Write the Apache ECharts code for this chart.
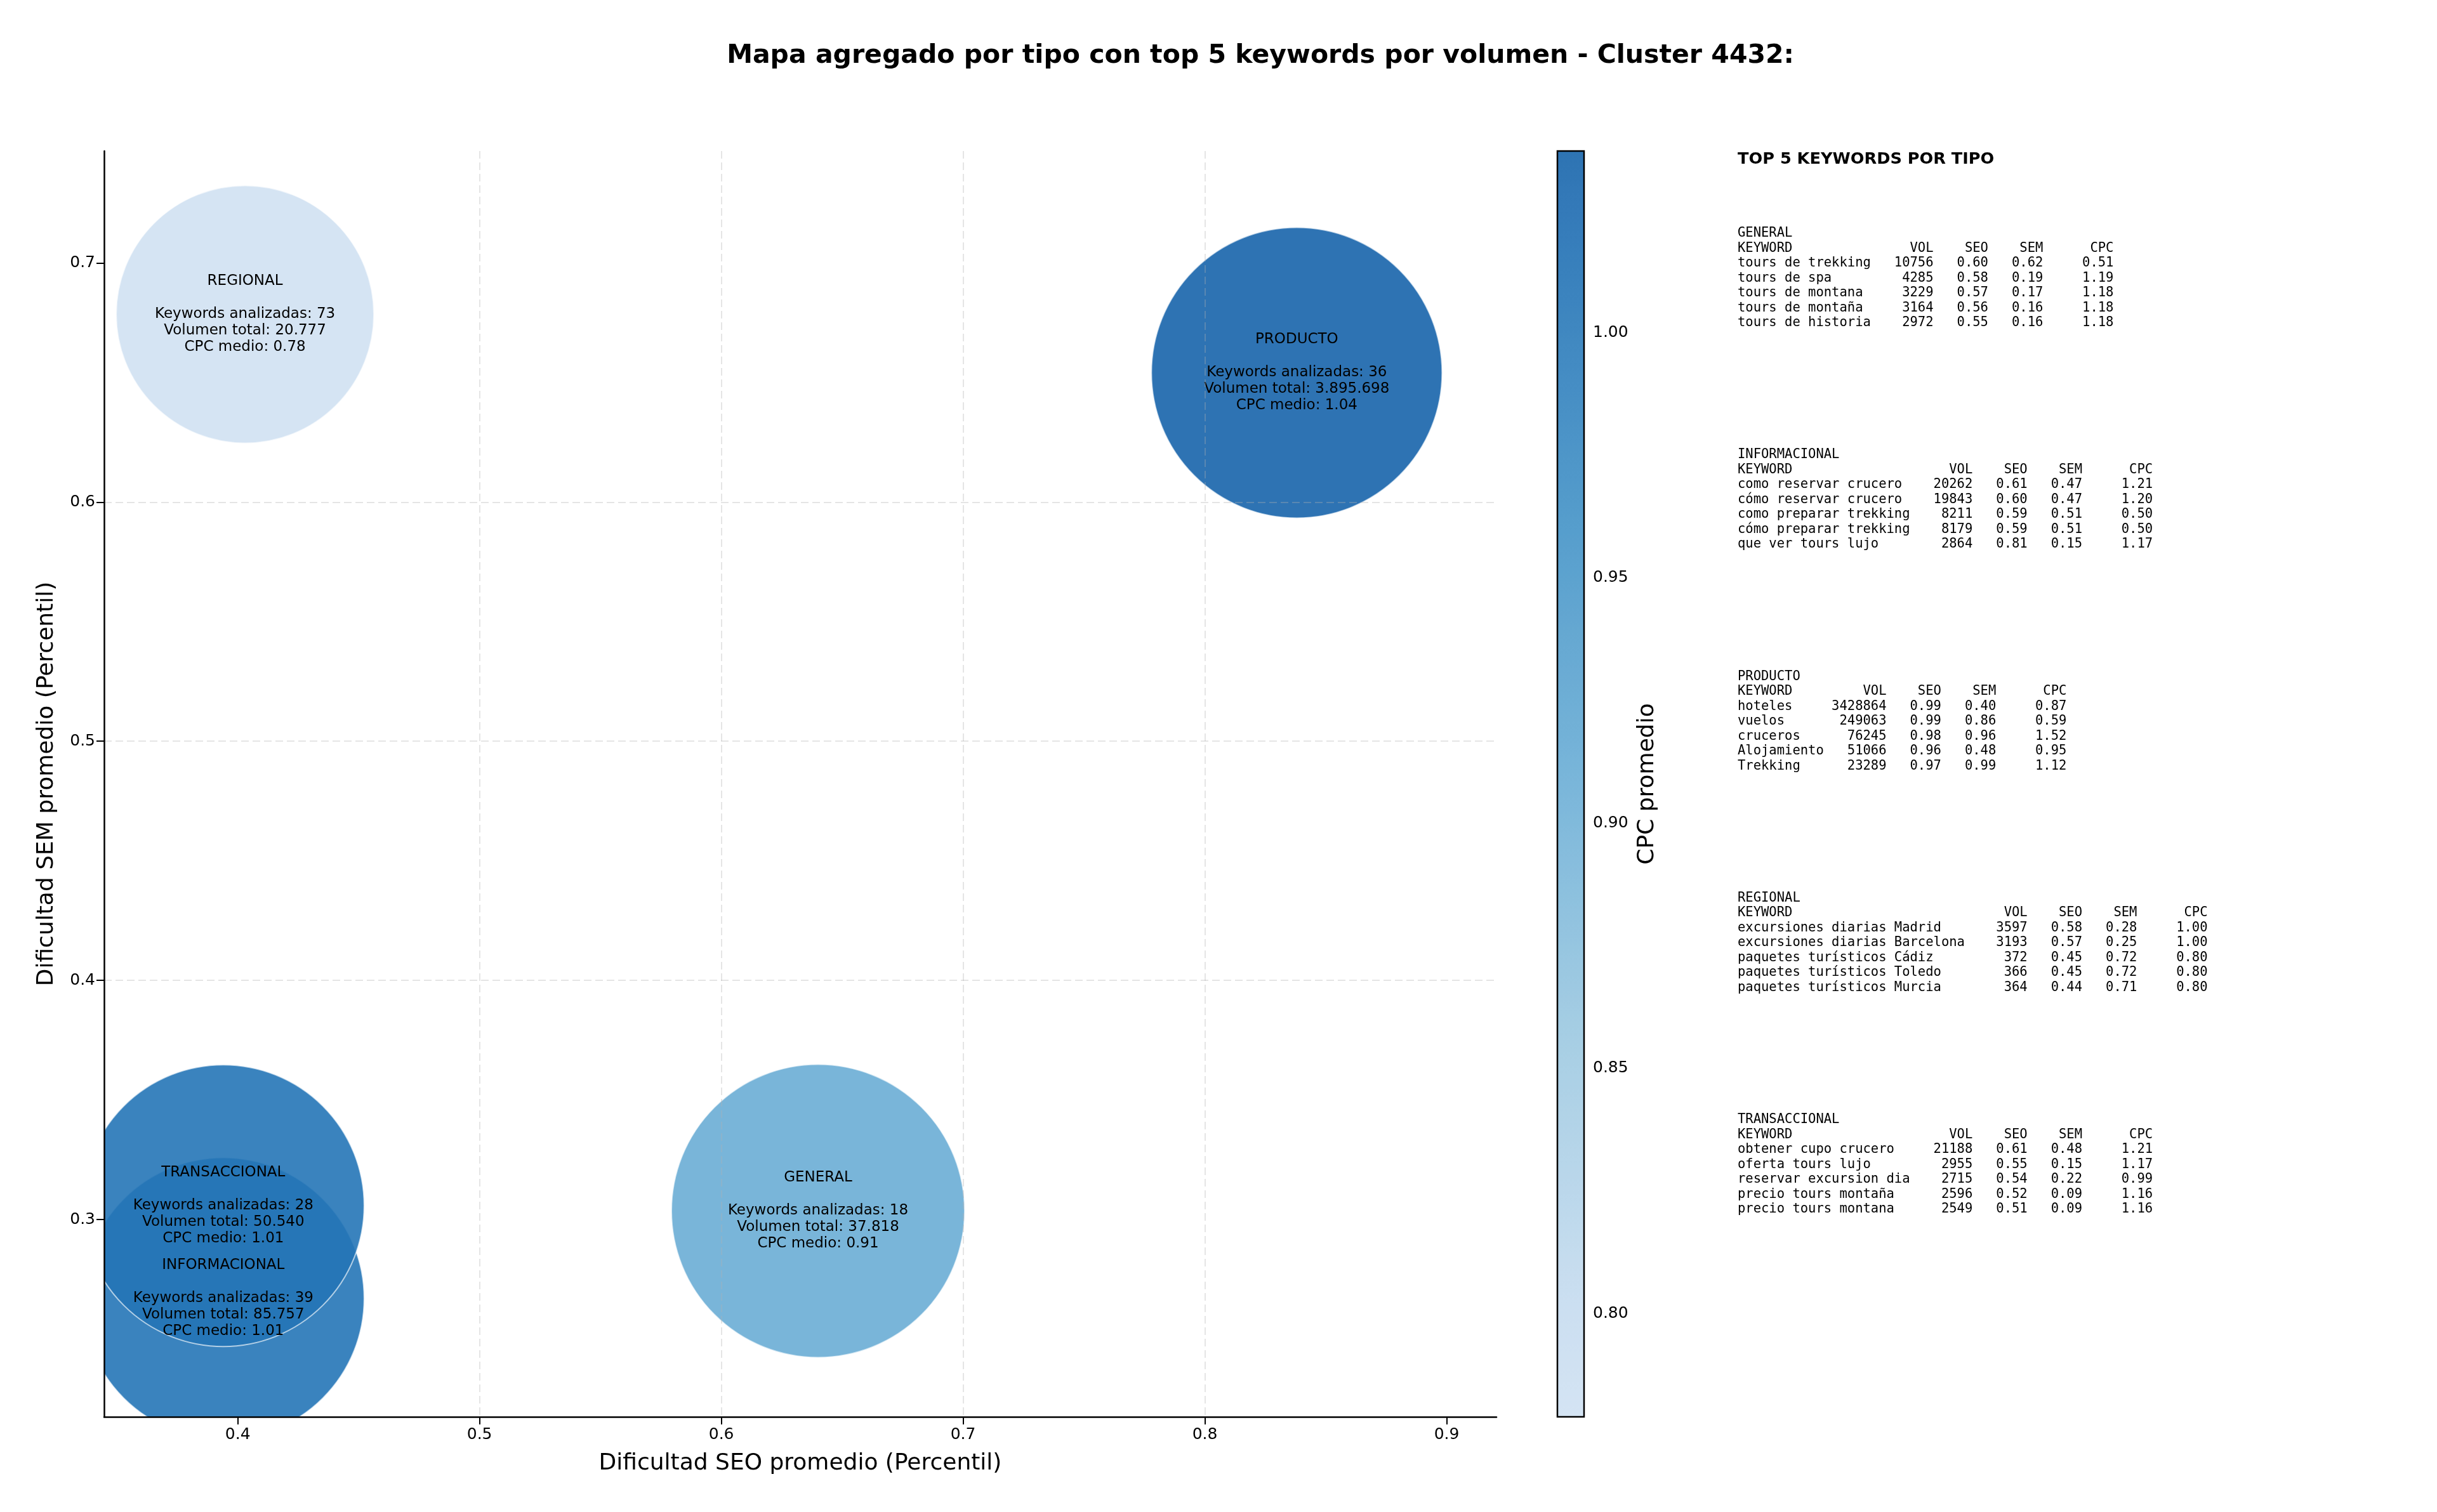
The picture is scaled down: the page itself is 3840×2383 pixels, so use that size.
<!DOCTYPE html>
<html>
<head>
<meta charset="utf-8">
<title>Mapa agregado por tipo - Cluster 4432</title>
<script src="https://cdn.jsdelivr.net/npm/echarts@6.0.0/dist/echarts.min.js"></script>
<style>
html, body { margin: 0; padding: 0; background: #fff; }
#chart { width: 3840px; height: 2383px; }
</style>
</head>
<body>
<div id="chart"></div>
<script>
// datos agregados por tipo
const tipos = ['GENERAL', 'INFORMACIONAL', 'PRODUCTO', 'REGIONAL', 'TRANSACCIONAL'];
const seoMedio = [0.640, 0.394, 0.838, 0.403, 0.394];
const semMedio = [0.3036, 0.267, 0.6541, 0.6785, 0.3058];
const cpcMedio = [0.91, 1.01, 1.037, 0.779, 1.01];
const numKeywords = [18, 39, 36, 73, 28];
const volumenTotal = [37818, 85757, 3895698, 20777, 50540];
const tamanoBurbuja = [46.2, 44.4, 45.8, 40.6, 44.4]; // indice relativo de tamaño

const ticksX = [0.4, 0.5, 0.6, 0.7, 0.8, 0.9];
const ticksY = [0.3, 0.4, 0.5, 0.6, 0.7];
const ticksCpc = [0.80, 0.85, 0.90, 0.95, 1.00];

// top 5 keywords por tipo: [keyword, vol, seo, sem, cpc]
const topGeneral = [
  ['tours de trekking', 10756, 0.60, 0.62, 0.51],
  ['tours de spa', 4285, 0.58, 0.19, 1.19],
  ['tours de montana', 3229, 0.57, 0.17, 1.18],
  ['tours de montaña', 3164, 0.56, 0.16, 1.18],
  ['tours de historia', 2972, 0.55, 0.16, 1.18]
];
const topInformacional = [
  ['como reservar crucero', 20262, 0.61, 0.47, 1.21],
  ['cómo reservar crucero', 19843, 0.60, 0.47, 1.20],
  ['como preparar trekking', 8211, 0.59, 0.51, 0.50],
  ['cómo preparar trekking', 8179, 0.59, 0.51, 0.50],
  ['que ver tours lujo', 2864, 0.81, 0.15, 1.17]
];
const topProducto = [
  ['hoteles', 3428864, 0.99, 0.40, 0.87],
  ['vuelos', 249063, 0.99, 0.86, 0.59],
  ['cruceros', 76245, 0.98, 0.96, 1.52],
  ['Alojamiento', 51066, 0.96, 0.48, 0.95],
  ['Trekking', 23289, 0.97, 0.99, 1.12]
];
const topRegional = [
  ['excursiones diarias Madrid', 3597, 0.58, 0.28, 1.00],
  ['excursiones diarias Barcelona', 3193, 0.57, 0.25, 1.00],
  ['paquetes turísticos Cádiz', 372, 0.45, 0.72, 0.80],
  ['paquetes turísticos Toledo', 366, 0.45, 0.72, 0.80],
  ['paquetes turísticos Murcia', 364, 0.44, 0.71, 0.80]
];
const topTransaccional = [
  ['obtener cupo crucero', 21188, 0.61, 0.48, 1.21],
  ['oferta tours lujo', 2955, 0.55, 0.15, 1.17],
  ['reservar excursion dia', 2715, 0.54, 0.22, 0.99],
  ['precio tours montaña', 2596, 0.52, 0.09, 1.16],
  ['precio tours montana', 2549, 0.51, 0.09, 1.16]
];
const tablas = [topGeneral, topInformacional, topProducto, topRegional, topTransaccional];

const FONT = 'DejaVu Sans';
const MONO = 'DejaVu Sans Mono';
const ALFA = 0.9;

// separador de miles con punto
function miles(n) {
  return String(n).replace(/\B(?=(\d{3})+(?!\d))/g, '.');
}

// mapa de color Blues recortado (0.2 - 0.8)
const BLUES = ['#f7fbff', '#deebf7', '#c6dbef', '#9ecae1', '#6baed6', '#4292c6', '#2171b5', '#08519c', '#08306b'];
function rgb(h) { return [1, 3, 5].map(k => parseInt(h.substr(k, 2), 16)); }
function blues(t, alfa) {
  const p = t * 8, i = Math.min(7, Math.floor(p)), f = p - i;
  const a = rgb(BLUES[i]), b = rgb(BLUES[i + 1]);
  return 'rgb(' + a.map((v, k) => {
    const c = v + (b[k] - v) * f;
    return Math.round(c * alfa + 255 * (1 - alfa));
  }).join(',') + ')';
}
const escalaColor = [], escalaBarra = [];
for (let k = 0; k <= 24; k++) {
  escalaColor.push(blues(0.2 + 0.6 * k / 24, 1));
  escalaBarra.push(blues(0.2 + 0.6 * k / 24, ALFA)); // la barra con la misma transparencia
}

// texto de cada tabla en formato monoespaciado
function textoTabla(nombre, filas) {
  const w = Math.max(...filas.map(f => f[0].length)) + 1;
  const lineas = [nombre,
    'KEYWORD'.padEnd(w) + 'VOL'.padStart(7) + 'SEO'.padStart(7) + 'SEM'.padStart(7) + 'CPC'.padStart(9)];
  filas.forEach(f => {
    lineas.push(f[0].padEnd(w) + String(f[1]).padStart(7) + f[2].toFixed(2).padStart(7) +
      f[3].toFixed(2).padStart(7) + f[4].toFixed(2).padStart(9));
  });
  return lineas.join('\n');
}

const datos = tipos.map((t, i) => [seoMedio[i], semMedio[i], cpcMedio[i], tamanoBurbuja[i]]);

function etiqueta(i) {
  return tipos[i] + '\n\nKeywords analizadas: ' + numKeywords[i] +
    '\nVolumen total: ' + miles(volumenTotal[i]) + '\nCPC medio: ' + cpcMedio[i].toFixed(2);
}

// burbuja + texto, recortado al area de la grafica
function dibujarBurbuja(params, api) {
  const c = api.coord([api.value(0), api.value(1)]);
  const r = api.value(3) * 5;
  return {
    type: 'group',
    children: [
      {
        type: 'circle', z2: 0,
        shape: { cx: c[0], cy: c[1], r: r },
        style: { fill: api.visual('color'), opacity: ALFA, stroke: 'rgba(255,255,255,0.7)', lineWidth: 2 }
      },
      {
        type: 'text', z2: 10, x: c[0], y: c[1],
        style: { text: etiqueta(params.dataIndex), align: 'center', verticalAlign: 'middle', fontSize: 23, lineHeight: 26, fontFamily: FONT, fill: '#000' }
      }
    ]
  };
}

const graficos = [
  {
    type: 'text', x: 1986, y: 88,
    style: { text: 'Mapa agregado por tipo con top 5 keywords por volumen - Cluster 4432:', fontSize: 41, fontWeight: 'bold', fontFamily: FONT, fill: '#000', align: 'center', verticalAlign: 'middle' }
  },
  {
    type: 'text', x: 2738, y: 251,
    style: { text: 'TOP 5 KEYWORDS POR TIPO', fontSize: 25.6, fontWeight: 'bold', fontFamily: FONT, fill: '#000', verticalAlign: 'middle' }
  }
];
tablas.forEach((filas, i) => {
  graficos.push({
    type: 'text', x: 2738, y: 356 + i * 349.3,
    style: { text: textoTabla(tipos[i], filas), fontSize: 20.5, fontFamily: MONO, lineHeight: 23.5, fill: '#000', verticalAlign: 'top' }
  });
});

const rejilla = { show: true, showMinLine: false, showMaxLine: false, lineStyle: { color: 'rgba(176,176,176,0.33)', width: 2, type: [12, 6] } };

const chart = echarts.init(document.getElementById('chart'));
chart.setOption({
  animation: false,
  textStyle: { fontFamily: FONT, color: '#000' },
  grid: [
    { left: 164, top: 238, width: 2194, height: 1995 },
    { left: 2454, top: 238, width: 42, height: 1995, show: true, borderColor: '#000', borderWidth: 2.5, backgroundColor: 'transparent', z: 10 }
  ],
  xAxis: [
    {
      gridIndex: 0, type: 'value', min: 0.3447, max: 0.9206, splitNumber: 5, z: 5,
      name: 'Dificultad SEO promedio (Percentil)', nameLocation: 'middle', nameGap: 56,
      nameTextStyle: { fontSize: 36, color: '#000', fontFamily: FONT },
      axisLine: { show: true, onZero: false, lineStyle: { color: '#000', width: 2.5 } },
      axisTick: { show: true, customValues: ticksX, length: 12, lineStyle: { color: '#000', width: 2 } },
      axisLabel: { customValues: ticksX, formatter: v => v.toFixed(1), fontSize: 25, color: '#000', margin: 16 },
      splitLine: rejilla
    },
    { gridIndex: 1, type: 'value', show: false }
  ],
  yAxis: [
    {
      gridIndex: 0, type: 'value', min: 0.2175, max: 0.7468, splitNumber: 5, z: 5,
      name: 'Dificultad SEM promedio (Percentil)', nameLocation: 'middle', nameGap: 72, nameRotate: 90,
      nameTextStyle: { fontSize: 36, color: '#000', fontFamily: FONT },
      axisLine: { show: true, onZero: false, lineStyle: { color: '#000', width: 2.5 } },
      axisTick: { show: true, customValues: ticksY, length: 12, lineStyle: { color: '#000', width: 2 } },
      axisLabel: { customValues: ticksY, formatter: v => v.toFixed(1), fontSize: 25, color: '#000', margin: 14 },
      splitLine: rejilla
    },
    {
      gridIndex: 1, type: 'value', position: 'right', min: 0.779, max: 1.037,
      name: 'CPC promedio', nameLocation: 'middle', nameGap: 82, nameRotate: 90,
      nameTextStyle: { fontSize: 36, color: '#000', fontFamily: FONT },
      axisLine: { show: false },
      axisTick: { show: true, customValues: ticksCpc, length: 10, lineStyle: { color: '#000', width: 2 } },
      axisLabel: { customValues: ticksCpc, formatter: v => v.toFixed(2), fontSize: 25, color: '#000', margin: 14 },
      splitLine: { show: false }
    }
  ],
  visualMap: [{
    type: 'continuous', seriesIndex: 0, dimension: 2, min: 0.779, max: 1.037,
    left: 2454, top: 238, itemWidth: 42, itemHeight: 1995, padding: 0,
    calculable: false, hoverLink: false, text: null,
    inRange: { color: escalaColor },
    controller: { inRange: { color: escalaBarra } }
  }],
  graphic: graficos,
  series: [{
    type: 'custom', xAxisIndex: 0, yAxisIndex: 0, clip: true,
    data: datos,
    renderItem: dibujarBurbuja,
    emphasis: { disabled: true }
  }]
});
</script>
</body>
</html>
